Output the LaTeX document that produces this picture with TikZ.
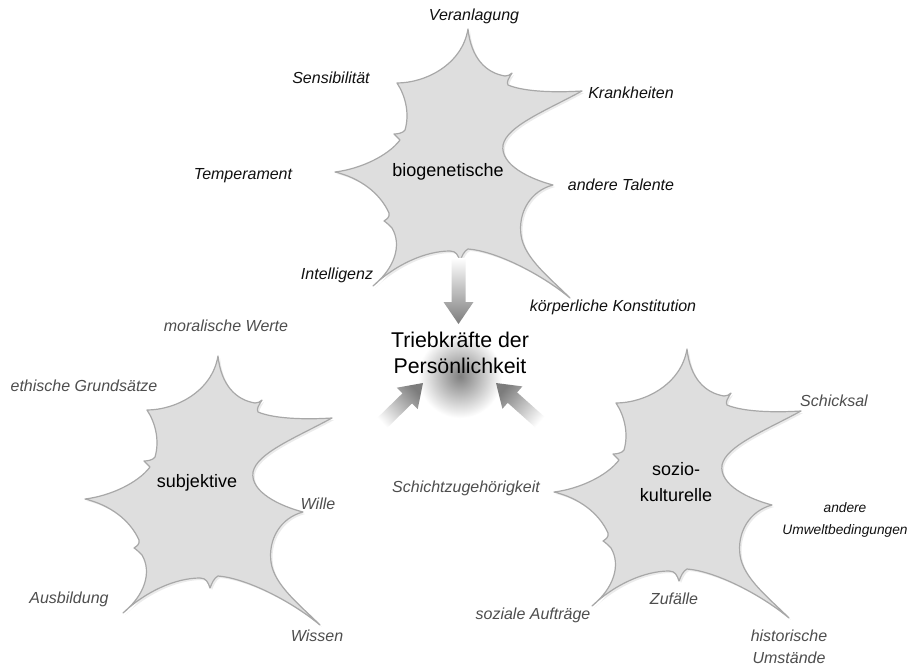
\documentclass[tikz,border=0pt]{standalone}
\usepackage{fontspec}
\setmainfont{Liberation Sans}
\definecolor{shapefill}{HTML}{DEDEDE}
\definecolor{shapeedge}{HTML}{A8A8A8}
\definecolor{lblgrey}{HTML}{4E4E4E}
\definecolor{lblblack}{HTML}{111111}
\definecolor{arrowdark}{HTML}{7C7C7C}
\newcommand\starpath{(218,356) .. controls (221,385) and (236,400) .. (255,403)
 .. controls (258,403) and (260,402) .. (262,400)
 .. controls (259,405) and (256,409) .. (258,412)
 .. controls (272,418) and (300,420) .. (332,418)
 .. controls (295,438) and (257,453) .. (253,472)
 .. controls (250,492) and (280,506) .. (303,512)
 .. controls (280,518) and (268,540) .. (271,562)
 .. controls (274,585) and (300,605) .. (320,625)
 .. controls (290,600) and (245,578) .. (218,576)
 .. controls (214,578) and (212,583) .. (210,588)
 .. controls (208,582) and (206,578) .. (200,578)
 .. controls (175,578) and (145,592) .. (123,613)
 .. controls (145,595) and (152,572) .. (142,555)
 .. controls (139,552) and (136,549) .. (134,548)
 .. controls (137,546) and (140,544) .. (139,540)
 .. controls (130,520) and (110,505) .. (85,499)
 .. controls (110,496) and (138,483) .. (150,467)
 .. controls (148,465) and (146,463) .. (144,461)
 .. controls (148,461) and (153,460) .. (155,457)
 .. controls (160,440) and (155,422) .. (147,410)
 .. controls (175,410) and (212,392) .. (218,356) -- cycle}
\tikzset{
  blob/.style={fill=shapefill, draw=shapeedge, line width=0.9pt, line join=round},
  blobshadow/.style={fill=black, opacity=0.08},
  blobtext/.style={font=\fontsize{13.5}{19.5}\selectfont, text=black, align=center, inner sep=0pt},
  toplbl/.style={font=\fontsize{12}{16.5}\selectfont\itshape, text=lblblack, align=center, inner sep=0pt},
  lowlbl/.style={font=\fontsize{12}{16.5}\selectfont\itshape, text=lblgrey, align=center, inner sep=0pt},
  smalllbl/.style={font=\fontsize{10.3}{16.5}\selectfont\itshape, text=lblblack, align=center, inner sep=0pt},
  titletext/.style={font=\fontsize{16}{19.5}\selectfont, text=black, align=center, inner sep=0pt},
}
\begin{document}
\begin{tikzpicture}[x=0.75pt, y=-0.75pt]
\useasboundingbox (0,0) rectangle (913,670);
\fill[white] (0,0) rectangle (913,670);

% --- star shapes ---
\begin{scope}[shift={(250,-327)}]
  \path[blobshadow, shift={(2,2)}] \starpath;
  \path[blob] \starpath;
\end{scope}
\begin{scope}
  \path[blobshadow, shift={(2,2)}] \starpath;
  \path[blob] \starpath;
\end{scope}
\begin{scope}[shift={(469,-7)}]
  \path[blobshadow, shift={(2,2)}] \starpath;
  \path[blob] \starpath;
\end{scope}

% --- central glow ---
\shade[inner color=black!50, outer color=white] (460,376) circle (42);

% --- arrows ---
\shade[top color=white, bottom color=arrowdark]
  (451.5,258) -- (451.5,302) -- (443.5,302) -- (458.5,324) -- (473.5,302) -- (465.5,302) -- (465.5,258) -- cycle;
\shade[top color=white, bottom color=arrowdark, shading angle=133]
  (375.1,420.0) -- (402.4,393.4) -- (396.8,387.7) -- (423,383) -- (417.7,409.1) -- (412.1,403.4) -- (384.9,430.0) -- cycle;
\shade[top color=white, bottom color=arrowdark, shading angle=-131]
  (537.3,429.2) -- (507.7,402.8) -- (502.4,408.8) -- (496,383) -- (522.4,386.4) -- (517.1,392.4) -- (546.7,418.8) -- cycle;

% --- texts ---
\node[titletext] (title) at (460,353) {Triebkräfte der\\Persönlichkeit};
\node[blobtext] (bio) at (448,172) {biogenetische};
\node[blobtext] (subj) at (197,483) {subjektive};
\node[blobtext] (sozio) at (676,482) {sozio-\\kulturelle};

\node[toplbl] (veranl) at (474,16) {Veranlagung};
\node[toplbl] (sensib) at (331,78) {Sensibilität};
\node[toplbl] (krank) at (631,93) {Krankheiten};
\node[toplbl] (temper) at (243,176) {Temperament};
\node[toplbl] (talente) at (621,185) {andere Talente};
\node[toplbl] (intell) at (337,275) {Intelligenz};
\node[toplbl] (koerper) at (613,307) {körperliche Konstitution};

\node[lowlbl] (moral) at (226,326) {moralische Werte};
\node[lowlbl] (ethik) at (84,386) {ethische Grundsätze};
\node[lowlbl] (wille) at (318,504) {Wille};
\node[lowlbl] (ausb) at (69,599) {Ausbildung};
\node[lowlbl] (wissen) at (317,636) {Wissen};

\node[lowlbl] (schicht) at (466,488) {Schichtzugehörigkeit};
\node[lowlbl] (auftr) at (533,615) {soziale Aufträge};
\node[lowlbl] (zufall) at (674,599) {Zufälle};
\node[lowlbl] (schicksal) at (834,401) {Schicksal};
\node[smalllbl] (umwelt) at (845,520) {andere\\Umweltbedingungen};
\node[lowlbl] (hist) at (789,647) {historische\\Umstände};
\end{tikzpicture}
\end{document}
